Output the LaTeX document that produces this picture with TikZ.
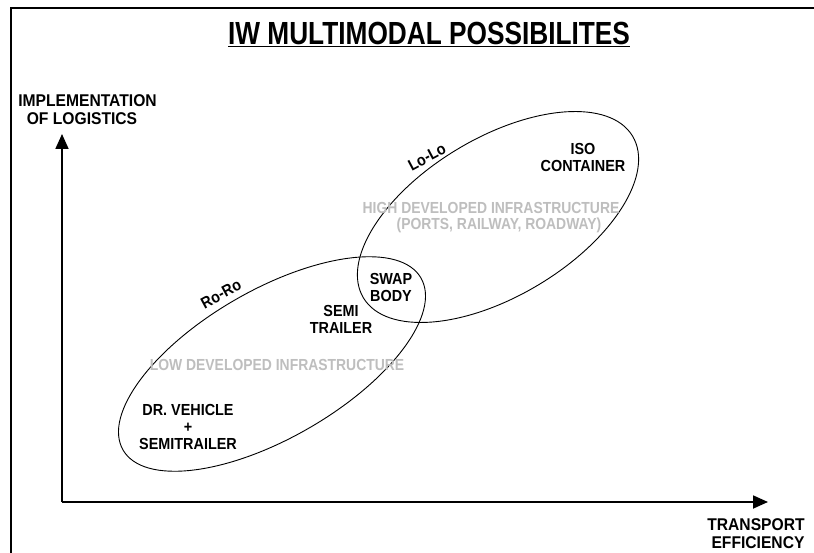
\documentclass[tikz,border=0pt]{standalone}
\usepackage{fontspec}
\setmainfont{Liberation Sans}
\newfontfamily\labfont[FakeStretch=0.9]{Liberation Sans}
\newfontfamily\axfont[FakeStretch=0.92]{Liberation Sans}
\newfontfamily\titfont[FakeStretch=0.82]{Liberation Sans}
\newfontfamily\grayfont[FakeStretch=0.87]{Liberation Sans}
\usetikzlibrary{shapes.geometric,arrows.meta}
\definecolor{lightgray}{RGB}{190,190,190}
\begin{document}
\begin{tikzpicture}[x=1pt,y=-1pt,
  lbl/.style={font=\labfont\bfseries\fontsize{16}{17}\selectfont, align=center, inner sep=0pt},
  axlbl/.style={font=\axfont\bfseries\fontsize{17}{18}\selectfont, align=center, inner sep=0pt},
  gray/.style={font=\grayfont\bfseries\fontsize{16}{17}\selectfont, text=lightgray, align=center, inner sep=0pt},
  zone/.style={ellipse, draw, line width=0.9pt, inner sep=0pt},
  axis/.style={line width=1.8pt, -{Triangle[length=15pt,width=13pt]}}
]
\useasboundingbox (0,0) rectangle (814,553);
\fill[white] (0,0) rectangle (814,553);
% frame
\draw[line width=2.2pt] (11,553) -- (11,8) -- (814,8);
% title
\node[inner sep=0pt, font=\titfont\bfseries\fontsize{32}{36}\selectfont] (title) at (429,34) {\underline{IW MULTIMODAL POSSIBILITES}};
% axes
\coordinate (origin) at (62,502);
\coordinate (ytip) at (62,134);
\coordinate (xtip) at (768,502);
\draw[axis] (origin) -- (ytip);
\draw[axis] (origin) -- (xtip);
\node[axlbl] (ylab1) at (87.5,101) {IMPLEMENTATION};
\node[axlbl] (ylab2) at (82,119) {OF LOGISTICS};
\node[axlbl] (xlab1) at (756,525) {TRANSPORT};
\node[axlbl] (xlab2) at (758,543) {EFFICIENCY};
% ellipses
\node[zone, minimum width=344pt, minimum height=148pt, rotate=30] (roro) at (272,364) {};
\node[zone, minimum width=314pt, minimum height=158pt, rotate=31] (lolo) at (498,217) {};
% labels
\node[lbl, rotate=28] (lolotxt) at (427,157) {Lo-Lo};
\node[lbl, rotate=28.5] (rorotxt) at (221,294) {Ro-Ro};
\node[lbl] (iso) at (583,157.5) {ISO\\CONTAINER};
\node[gray] (high1) at (491,208) {HIGH DEVELOPED INFRASTRUCTURE};
\node[gray] (high2) at (499,225) {(PORTS, RAILWAY, ROADWAY)};
\node[lbl] (swap) at (391,287.5) {SWAP\\BODY};
\node[lbl] (semi) at (341,319.5) {SEMI\\TRAILER};
\node[gray] (low) at (277,365) {LOW DEVELOPED INFRASTRUCTURE};
\node[lbl] (drv) at (188,426.5) {DR. VEHICLE\\+\\SEMITRAILER};
\end{tikzpicture}
\end{document}
